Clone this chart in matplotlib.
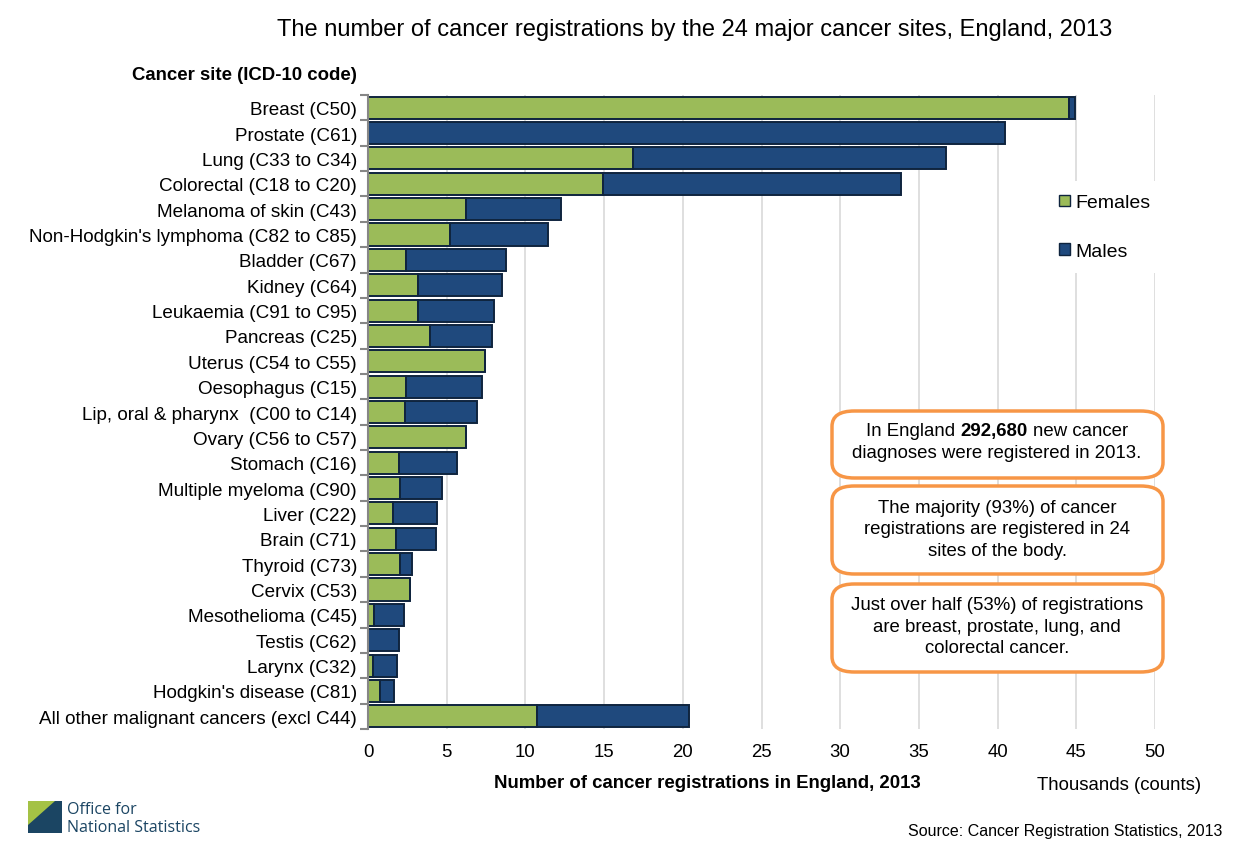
import matplotlib
matplotlib.use("Agg")
import matplotlib.pyplot as plt
import numpy as np
from matplotlib.patches import Patch, FancyBboxPatch, Polygon, Rectangle

plt.rcParams['font.family'] = ['Liberation Sans', 'DejaVu Sans']

sites = ["Breast (C50)", "Prostate (C61)", "Lung (C33 to C34)", "Colorectal (C18 to C20)",
         "Melanoma of skin (C43)", "Non-Hodgkin's lymphoma (C82 to C85)", "Bladder (C67)",
         "Kidney (C64)", "Leukaemia (C91 to C95)", "Pancreas (C25)", "Uterus (C54 to C55)",
         "Oesophagus (C15)", "Lip, oral & pharynx  (C00 to C14)", "Ovary (C56 to C57)",
         "Stomach (C16)", "Multiple myeloma (C90)", "Liver (C22)", "Brain (C71)",
         "Thyroid (C73)", "Cervix (C53)", "Mesothelioma (C45)", "Testis (C62)",
         "Larynx (C32)", "Hodgkin's disease (C81)", "All other malignant cancers (excl C44)"]
females = [44.56, 0.0, 16.84, 14.93, 6.22, 5.21, 2.41, 3.17, 3.17, 3.94, 7.43, 2.41, 2.35,
           6.22, 1.97, 2.03, 1.58, 1.78, 2.03, 2.67, 0.38, 0.0, 0.31, 0.76, 10.74]
males = [0.34, 40.45, 19.86, 18.91, 6.05, 6.25, 6.38, 5.37, 4.86, 3.94, 0.0, 4.85, 4.58,
         0.0, 3.68, 2.67, 2.82, 2.56, 0.76, 0.0, 1.90, 1.97, 1.53, 0.89, 9.64]
xticks = [0, 5, 10, 15, 20, 25, 30, 35, 40, 45, 50]

GREEN = "#9BBB59"
BLUE = "#1F497D"
EDGE = "#0F243E"
ORANGE = "#F79646"

W, H = 1241, 854
fig = plt.figure(figsize=(W / 100, H / 100), dpi=100)

def fx(px):
    return px / W

def fy(py):
    return 1 - py / H

FS = 13.4
ax = fig.add_axes([fx(368), fy(730), fx(1155) - fx(368), fy(96) - fy(730)])
y = np.arange(len(sites))
ax.barh(y, females, height=0.87, color=GREEN, edgecolor=EDGE, linewidth=1.4, zorder=3)
ax.barh(y, males, left=females, height=0.87, color=BLUE, edgecolor=EDGE, linewidth=1.4, zorder=3)
ax.set_ylim(len(sites) - 0.5, -0.5)
ax.set_xlim(0, 50)
ax.set_xticks(xticks)
ax.set_xticklabels([str(t) for t in xticks], fontsize=FS)
ax.tick_params(axis='x', length=0, pad=10)
ax.set_yticks(y)
ax.set_yticklabels(sites, fontsize=13.6)
ax.set_yticks(np.arange(len(sites) + 1) - 0.5, minor=True)
ax.tick_params(axis='y', which='major', length=0, pad=8)
ax.tick_params(axis='y', which='minor', length=6, width=1.5, color="#868686", direction='out')
for s in ['top', 'right', 'bottom']:
    ax.spines[s].set_visible(False)
ax.spines['left'].set_color("#868686")
ax.spines['left'].set_linewidth(1.5)
ax.spines['left'].set_zorder(4)
ax.grid(axis='x', color="#D9D9D9", linewidth=1.2, zorder=0)
ax.set_axisbelow(True)

handles = [Patch(facecolor=GREEN, edgecolor=EDGE, label="Females"),
           Patch(facecolor=BLUE, edgecolor=EDGE, label="Males")]
leg = ax.legend(handles=handles, loc='upper left',
                bbox_to_anchor=(fx(1036), fy(172)), bbox_transform=fig.transFigure,
                fontsize=14, frameon=True, fancybox=False, borderpad=0.7,
                handlelength=0.55, handleheight=0.55, handletextpad=0.3,
                labelspacing=1.62)
leg.get_frame().set_edgecolor('none')
leg.get_frame().set_facecolor('white')
leg.get_frame().set_alpha(1)

fig.text(fx(695), fy(30), "The number of cancer registrations by the 24 major cancer sites, England, 2013",
         ha='center', va='center', fontsize=17)
fig.text(fx(357), fy(75), "Cancer site (ICD-10 code)", ha='right', va='center',
         fontsize=FS, fontweight='bold')
fig.text(fx(707), fy(784), "Number of cancer registrations in England, 2013", ha='center',
         va='center', fontsize=FS, fontweight='bold')
fig.text(fx(1119), fy(786), "Thousands (counts)", ha='center', va='center', fontsize=FS)
fig.text(fx(1222), fy(832), "Source: Cancer Registration Statistics, 2013", ha='right',
         va='center', fontsize=11.5)

# annotation boxes
boxes = [(412, 479), (487, 575), (585, 673)]
for top, bot in boxes:
    p = FancyBboxPatch((fx(832), fy(bot)), fx(1163) - fx(832), fy(top) - fy(bot),
                       boxstyle="round,pad=0,rounding_size=0.018", transform=fig.transFigure,
                       facecolor='white', edgecolor=ORANGE, linewidth=2.5, zorder=5)
    fig.patches.append(p)

cx = fx(997)
renderer = fig.canvas.get_renderer()
parts = [("In England", 'normal'), ("292,680", 'bold'), ("new cancer", 'normal')]
widths = []
for s, wgt in parts:
    t = fig.text(0, 0, s, fontsize=FS, fontweight=wgt)
    widths.append(t.get_window_extent(renderer).width)
    t.remove()
t = fig.text(0, 0, "a a", fontsize=FS)
space = t.get_window_extent(renderer).width
t.remove()
t = fig.text(0, 0, "aa", fontsize=FS)
space -= t.get_window_extent(renderer).width
t.remove()
total = sum(widths) + 2 * space
xstart = 997 - total / 2
for (s, wgt), wd in zip(parts, widths):
    fig.text(fx(xstart), fy(432), s, fontsize=FS, fontweight=wgt, ha='left', va='center', zorder=6)
    xstart += wd + space
fig.text(cx, fy(454), "diagnoses were registered in 2013.", fontsize=FS, ha='center',
         va='center', zorder=6)
fig.text(cx, fy(530), "The majority (93%) of cancer\nregistrations are registered in 24\nsites of the body.",
         fontsize=FS, ha='center', va='center', linespacing=1.36, zorder=6)
fig.text(cx, fy(627), "Just over half (53%) of registrations\nare breast, prostate, lung, and\ncolorectal cancer.",
         fontsize=FS, ha='center', va='center', linespacing=1.36, zorder=6)

# ONS logo
logo_navy = "#1B4563"
sq = Rectangle((fx(28), fy(834)), fx(62) - fx(28), fy(802) - fy(834), transform=fig.transFigure,
               facecolor=logo_navy, edgecolor='none')
fig.patches.append(sq)
tri = Polygon([(fx(28), fy(802)), (fx(55), fy(802)), (fx(28), fy(826))], closed=True,
              transform=fig.transFigure, facecolor="#A4C245", edgecolor='none')
fig.patches.append(tri)
fig.text(fx(67), fy(810), "Office for", fontsize=11.5, color=logo_navy, family='Open Sans',
         ha='left', va='center')
fig.text(fx(67), fy(828), "National Statistics", fontsize=11.5, color=logo_navy, family='Open Sans',
         ha='left', va='center')

fig.savefig("out.png", dpi=100)
